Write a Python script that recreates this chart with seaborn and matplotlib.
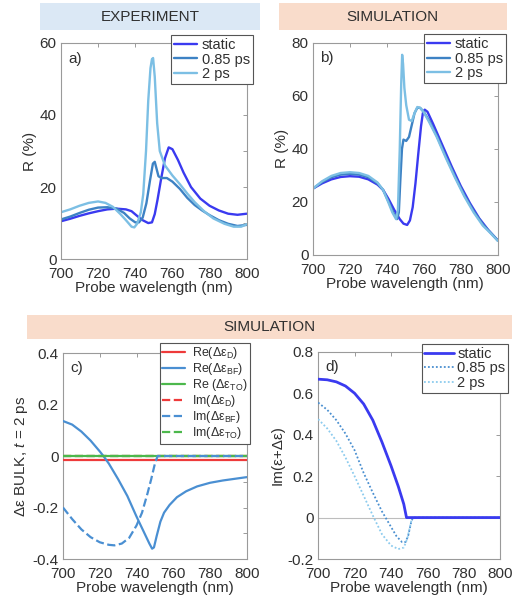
import numpy as np
import pandas as pd
import seaborn as sns
import matplotlib.pyplot as plt
from matplotlib.patches import Rectangle
from matplotlib.ticker import MultipleLocator

# ---------------- data ----------------
# Panel a (experiment)
a_static_x = [700, 705, 710, 715, 720, 725, 730, 735, 738, 741, 744, 747, 749, 750.5, 752, 754, 756, 758, 760, 763, 766, 770, 775, 780, 785, 790, 795, 800]
a_static_y = [10.5, 11.2, 12.0, 12.7, 13.3, 13.8, 14.0, 13.8, 13.3, 12.0, 10.8, 10.0, 10.2, 12.5, 16.5, 22.5, 28.0, 31.0, 30.5, 27.5, 24.0, 20.0, 16.8, 14.8, 13.5, 12.6, 12.3, 12.6]
a_085_x = [700, 705, 710, 715, 720, 725, 730, 734, 737, 740, 742, 744, 746, 748, 749.5, 750.5, 751.5, 752.5, 754, 757, 760, 764, 768, 772, 776, 780, 785, 790, 795, 800]
a_085_y = [11.0, 11.8, 12.8, 13.7, 14.3, 14.4, 14.0, 12.8, 11.3, 10.2, 10.2, 11.5, 15.5, 22.0, 26.5, 27.0, 25.0, 23.0, 22.5, 22.5, 21.5, 19.5, 17.0, 15.0, 13.5, 12.2, 10.8, 9.8, 9.2, 9.5]
a_2_x = [700, 705, 710, 715, 720, 724, 728, 732, 735, 738, 739.5, 741, 743, 744.3, 745.8, 747, 748.2, 749, 749.6, 750.5, 751.8, 753.2, 756, 760, 764, 768, 772, 777, 782, 788, 793, 797, 800]
a_2_y = [13.0, 13.8, 14.8, 15.6, 16.0, 15.6, 14.5, 12.5, 10.8, 9.0, 8.8, 9.8, 13.0, 18.0, 30.0, 44.0, 53.0, 55.5, 55.8, 50.6, 37.7, 30.0, 26.0, 23.2, 20.8, 18.2, 15.8, 13.3, 11.3, 9.8, 9.0, 9.0, 9.7]

# Panel b (simulation)
b_static_x = [700, 705, 710, 715, 720, 725, 730, 735, 738, 741, 744, 747, 749, 751, 752.5, 754, 755.5, 757, 758.5, 759.5, 760.5, 762, 765, 770, 775, 780, 785, 790, 795, 800]
b_static_y = [25.0, 27.0, 28.5, 29.4, 29.7, 29.5, 28.5, 26.5, 24.5, 21.0, 17.0, 13.5, 11.8, 11.3, 13.0, 18.0, 27.0, 38.0, 48.5, 53.5, 54.8, 54.0, 49.5, 41.5, 33.5, 26.0, 19.5, 13.8, 9.3, 5.5]
b_085_x = [700, 705, 710, 715, 720, 725, 730, 735, 738, 741, 743.5, 745.5, 746.5, 747.3, 748.2, 749, 750.5, 752, 753.5, 755, 756.5, 758, 760, 763, 767, 772, 777, 782, 787, 792, 796, 800]
b_085_y = [25.0, 27.5, 29.3, 30.3, 30.6, 30.3, 29.3, 27.0, 24.5, 20.0, 16.0, 13.5, 16.0, 28.0, 40.0, 43.5, 43.0, 44.5, 49.0, 53.5, 55.5, 55.5, 54.0, 50.5, 45.0, 37.0, 29.5, 22.5, 16.5, 11.5, 8.5, 5.5]
b_2_x = [700, 705, 710, 715, 720, 725, 730, 735, 738, 741, 743, 745, 746, 747, 747.8, 748.3, 748.8, 749.5, 750.5, 752, 753.5, 755, 756.5, 758, 760, 763, 767, 772, 777, 782, 787, 792, 796, 800]
b_2_y = [25.0, 27.8, 29.8, 30.9, 31.2, 30.9, 29.8, 27.3, 24.5, 19.5, 16.0, 13.5, 17.0, 40.0, 65.0, 75.5, 72.0, 63.0, 56.5, 51.0, 50.5, 53.5, 55.8, 55.5, 53.8, 50.0, 44.5, 36.5, 29.0, 22.0, 16.0, 11.0, 8.3, 5.3]

# Panel c (permittivity changes, t = 2 ps)
c_flat_x = [700, 800]
c_reD = [-0.014, -0.014]
c_reTO = [0.0, 0.0]
c_imD = [0.0, 0.0]
c_imTO = [0.0, 0.0]
c_reBF_x = [700, 705, 710, 715, 720, 722, 725, 730, 735, 740, 744, 747, 748.5, 749.5, 751, 753, 755, 758, 762, 767, 773, 780, 787, 794, 800]
c_reBF_y = [0.136, 0.122, 0.095, 0.06, 0.018, 0.0, -0.03, -0.09, -0.155, -0.235, -0.295, -0.34, -0.36, -0.355, -0.31, -0.255, -0.22, -0.19, -0.16, -0.137, -0.118, -0.104, -0.095, -0.088, -0.082]
c_imBF_x = [700, 705, 710, 715, 720, 725, 728, 732, 736, 740, 743, 746, 748, 750, 751.5, 760, 780, 800]
c_imBF_y = [-0.2, -0.245, -0.285, -0.315, -0.335, -0.345, -0.347, -0.34, -0.318, -0.27, -0.22, -0.145, -0.09, -0.03, 0.0, 0.0, 0.0, 0.0]

# Panel d (Im(eps + delta eps))
d_static_x = [700, 705, 710, 715, 720, 725, 730, 735, 740, 744, 747, 748.5, 760, 780, 800]
d_static_y = [0.668, 0.665, 0.655, 0.635, 0.600, 0.548, 0.470, 0.365, 0.250, 0.150, 0.065, 0.0, 0.0, 0.0, 0.0]
d_085_x = [700, 705, 710, 715, 720, 725, 730, 735, 739, 743, 746, 748, 749.5, 751, 752, 760, 780, 800]
d_085_y = [0.555, 0.52, 0.47, 0.405, 0.325, 0.215, 0.12, 0.03, -0.03, -0.09, -0.118, -0.118, -0.085, -0.025, 0.0, 0.0, 0.0, 0.0]
d_2_x = [700, 705, 710, 715, 720, 725, 730, 735, 740, 744, 747, 749, 751, 752, 760, 780, 800]
d_2_y = [0.475, 0.43, 0.37, 0.29, 0.2, 0.105, 0.01, -0.08, -0.135, -0.152, -0.145, -0.1, -0.02, 0.0, 0.0, 0.0, 0.0]

series_labels = ["static", "0.85 ps", "2 ps"]
x_ticks = [700, 720, 740, 760, 780, 800]

# ---------------- style ----------------
sns.set_theme(style="white")
plt.rcParams['font.family'] = ['Liberation Sans', 'DejaVu Sans']
plt.rcParams['mathtext.fontset'] = 'custom'
plt.rcParams['mathtext.rm'] = 'Liberation Sans'
plt.rcParams['mathtext.it'] = 'Liberation Sans:italic'
plt.rcParams['mathtext.bf'] = 'Liberation Sans:bold'

C_STATIC = "#3a3af0"
C_085 = "#3d82c4"
C_2 = "#7cbfe4"
SPINE = "#9a9a9a"
TXT = "#303030"
FS = 11

fig = plt.figure(figsize=(5.25, 6.04), dpi=100)

# header bars
fig.patches.append(Rectangle((0.076, 0.950), 0.419, 0.045, transform=fig.transFigure,
                             facecolor="#dbe8f5", edgecolor="none", zorder=0))
fig.text(0.2857, 0.972, "EXPERIMENT", ha="center", va="center", fontsize=FS, color=TXT)
fig.patches.append(Rectangle((0.531, 0.950), 0.434, 0.045, transform=fig.transFigure,
                             facecolor="#f9dccb", edgecolor="none", zorder=0))
fig.text(0.748, 0.972, "SIMULATION", ha="center", va="center", fontsize=FS, color=TXT)
fig.patches.append(Rectangle((0.051, 0.439), 0.924, 0.040, transform=fig.transFigure,
                             facecolor="#f9dccb", edgecolor="none", zorder=0))
fig.text(0.514, 0.459, "SIMULATION", ha="center", va="center", fontsize=FS, color=TXT)

ax_a = fig.add_axes([0.116, 0.571, 0.354, 0.358])
ax_b = fig.add_axes([0.596, 0.578, 0.352, 0.351])
ax_c = fig.add_axes([0.120, 0.0745, 0.350, 0.341])
ax_d = fig.add_axes([0.606, 0.0745, 0.347, 0.343])


def style_axes(ax, letter):
    for s in ax.spines.values():
        s.set_color(SPINE)
        s.set_linewidth(0.8)
    ax.tick_params(axis="both", which="both", direction="in", top=True, right=True,
                   color=SPINE, labelcolor=TXT, labelsize=FS, width=0.7)
    ax.tick_params(which="major", length=3)
    ax.tick_params(which="minor", length=3)
    ax.tick_params(axis="x", pad=6)
    ax.tick_params(axis="y", pad=3)
    ax.set_xlim(700, 800)
    ax.set_xticks(x_ticks)
    ax.set_xlabel("Probe wavelength (nm)", fontsize=FS, color=TXT, labelpad=0)
    ax.text(0.04, 0.96, letter, transform=ax.transAxes, ha="left", va="top",
            fontsize=FS, color=TXT)


def legend(ax, anchor, hl=1.6, fs=10.5, ls=0.05, tp=0.3):
    leg = ax.legend(loc="upper right", bbox_to_anchor=anchor, fontsize=fs,
                    frameon=True, fancybox=False, borderpad=0.2, labelspacing=ls,
                    handlelength=hl, handletextpad=tp, borderaxespad=0)
    leg.get_frame().set_edgecolor("#555555")
    leg.get_frame().set_linewidth(0.8)
    leg.get_frame().set_facecolor("white")
    leg.get_frame().set_alpha(1)
    for t in leg.get_texts():
        t.set_color(TXT)
    return leg


def draw(ax, xs, ys, label, color, **kw):
    df = pd.DataFrame({"x": xs, "y": ys})
    sns.lineplot(data=df, x="x", y="y", ax=ax, color=color, label=label,
                 sort=False, estimator=None, **kw)


# panel a
for xs, ys, lab, col in [(a_static_x, a_static_y, series_labels[0], C_STATIC),
                         (a_085_x, a_085_y, series_labels[1], C_085),
                         (a_2_x, a_2_y, series_labels[2], C_2)]:
    draw(ax_a, xs, ys, lab, col, linewidth=1.7)
style_axes(ax_a, "a)")
ax_a.set_ylim(0, 60)
ax_a.yaxis.set_major_locator(MultipleLocator(20))
ax_a.yaxis.set_minor_locator(MultipleLocator(10))
ax_a.set_ylabel("R (%)", fontsize=FS, color=TXT, labelpad=2)
legend(ax_a, (1.032, 1.037))

# panel b
for xs, ys, lab, col in [(b_static_x, b_static_y, series_labels[0], C_STATIC),
                         (b_085_x, b_085_y, series_labels[1], C_085),
                         (b_2_x, b_2_y, series_labels[2], C_2)]:
    draw(ax_b, xs, ys, lab, col, linewidth=1.7)
style_axes(ax_b, "b)")
ax_b.set_ylim(0, 80)
ax_b.yaxis.set_major_locator(MultipleLocator(20))
ax_b.set_ylabel("R (%)", fontsize=FS, color=TXT, labelpad=2)
legend(ax_b, (1.043, 1.042))

# panel c
C_RED = "#ee3a3a"
C_BLUE = "#4a8fd2"
C_GREEN = "#4cb84c"
draw(ax_c, c_flat_x, c_reD, "Re(Δε$_{\\mathrm{D}}$)", C_RED, linewidth=1.6, zorder=3)
draw(ax_c, c_reBF_x, c_reBF_y, "Re(Δε$_{\\mathrm{BF}}$)", C_BLUE, linewidth=1.6, zorder=3)
draw(ax_c, c_flat_x, c_reTO, "Re (Δε$_{\\mathrm{TO}}$)", C_GREEN, linewidth=1.6, zorder=3)
draw(ax_c, c_flat_x, c_imD, "Im(Δε$_{\\mathrm{D}}$)", C_RED, linewidth=1.6, linestyle="--", zorder=2)
draw(ax_c, c_imBF_x, c_imBF_y, "Im(Δε$_{\\mathrm{BF}}$)", C_BLUE, linewidth=1.6, linestyle="--", zorder=4)
draw(ax_c, c_flat_x, c_imTO, "Im(Δε$_{\\mathrm{TO}}$)", C_GREEN, linewidth=1.6, linestyle="--", zorder=2)
style_axes(ax_c, "c)")
ax_c.set_ylim(-0.4, 0.4)
ax_c.set_yticks([-0.4, -0.2, 0, 0.2, 0.4], labels=["-0.4", "-0.2", "0", "0.2", "0.4"])
ax_c.yaxis.set_minor_locator(MultipleLocator(0.1))
ax_c.set_ylabel("Δε BULK, $\\mathit{t}$ = 2 ps", fontsize=FS, color=TXT, labelpad=2)
legend(ax_c, (1.016, 1.049), hl=1.85, fs=9, ls=0.0, tp=0.5)

# panel d
ax_d.axhline(0, color="#bdbdbd", linewidth=0.8, zorder=1)
draw(ax_d, d_static_x, d_static_y, series_labels[0], C_STATIC, linewidth=2.0, zorder=4)
draw(ax_d, d_085_x, d_085_y, series_labels[1], "#4a8fd0", linewidth=1.3, linestyle=(0, (1, 1.2)), zorder=3)
draw(ax_d, d_2_x, d_2_y, series_labels[2], "#8ccbee", linewidth=1.3, linestyle=(0, (1, 1.2)), zorder=3)
style_axes(ax_d, "d)")
ax_d.set_ylim(-0.2, 0.8)
ax_d.set_yticks([-0.2, 0, 0.2, 0.4, 0.6, 0.8], labels=["-0.2", "0", "0.2", "0.4", "0.6", "0.8"])
ax_d.set_ylabel("Im(ε+Δε)", fontsize=FS, color=TXT, labelpad=2)
legend(ax_d, (1.044, 1.039), hl=2.0, tp=0.25)

fig.savefig("out.png", dpi=100, facecolor="white")
